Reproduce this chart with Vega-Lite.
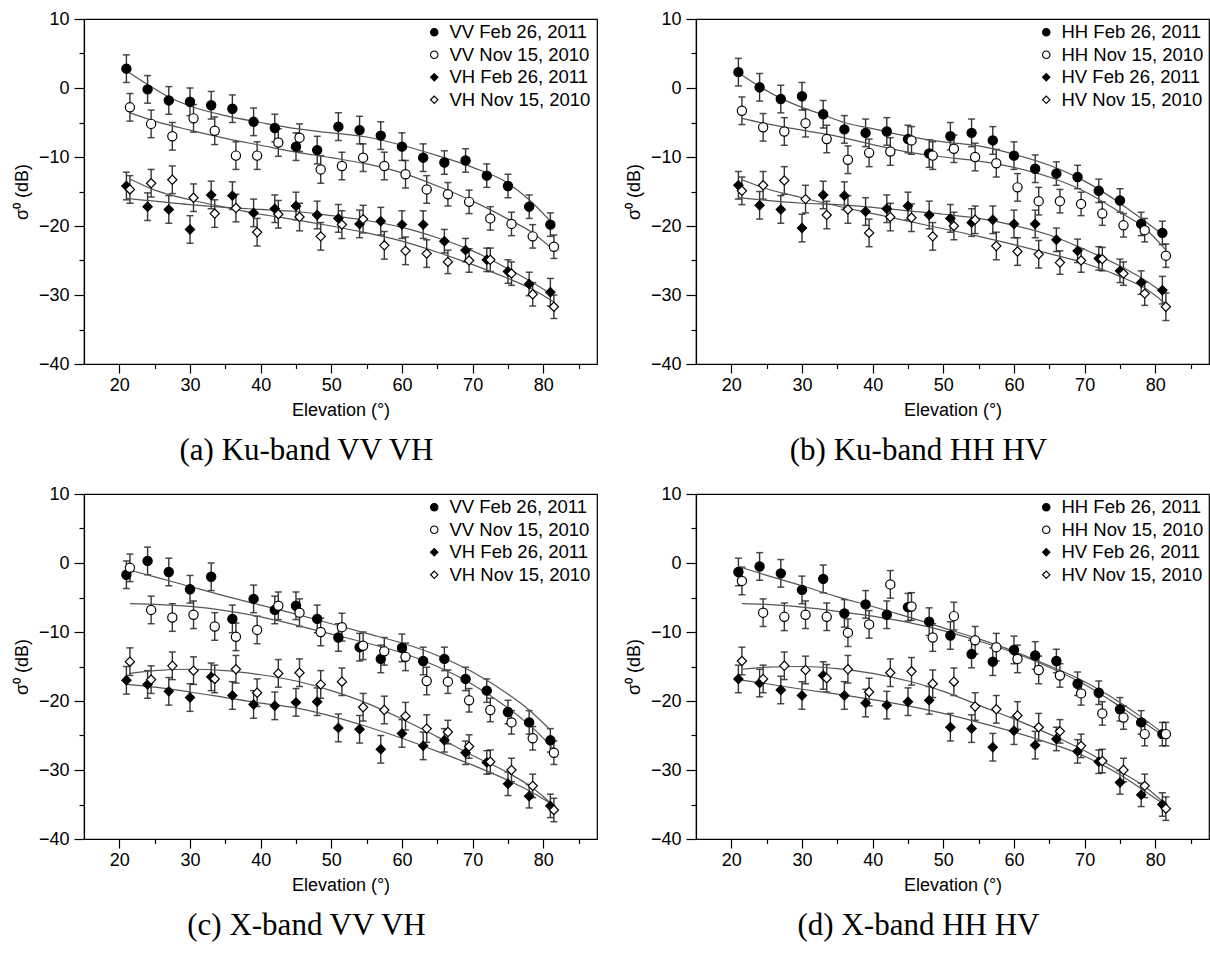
{
  "$schema": "https://vega.github.io/schema/vega-lite/v6.json",
  "background": "white",
  "padding": {"left": 12, "top": 9, "right": 0, "bottom": 0},
  "columns": 2,
  "spacing": {"row": 130, "column": 99},
  "bounds": "flush",
  "resolve": {"scale": {"shape": "independent", "fill": "independent", "stroke": "independent", "x": "independent", "y": "independent"}, "legend": {"shape": "independent", "fill": "independent", "stroke": "independent"}},
  "datasets": {
    "pts": [
      {"p":"a","s":"VV Feb 26, 2011","x":21,"y":2.8,"e":2},{"p":"a","s":"VV Feb 26, 2011","x":24,"y":-0.2,"e":2},{"p":"a","s":"VV Feb 26, 2011","x":27,"y":-1.8,"e":2},{"p":"a","s":"VV Feb 26, 2011","x":30,"y":-2.0,"e":2},{"p":"a","s":"VV Feb 26, 2011","x":33,"y":-2.5,"e":2},{"p":"a","s":"VV Feb 26, 2011","x":36,"y":-3.0,"e":2},{"p":"a","s":"VV Feb 26, 2011","x":39,"y":-4.9,"e":2},{"p":"a","s":"VV Feb 26, 2011","x":42,"y":-5.8,"e":2},{"p":"a","s":"VV Feb 26, 2011","x":45,"y":-8.5,"e":2},{"p":"a","s":"VV Feb 26, 2011","x":48,"y":-9.0,"e":2},{"p":"a","s":"VV Feb 26, 2011","x":51,"y":-5.6,"e":2},{"p":"a","s":"VV Feb 26, 2011","x":54,"y":-6.1,"e":2},{"p":"a","s":"VV Feb 26, 2011","x":57,"y":-6.9,"e":2},{"p":"a","s":"VV Feb 26, 2011","x":60,"y":-8.5,"e":2},{"p":"a","s":"VV Feb 26, 2011","x":63,"y":-10.1,"e":2},{"p":"a","s":"VV Feb 26, 2011","x":66,"y":-10.8,"e":1.7},{"p":"a","s":"VV Feb 26, 2011","x":69,"y":-10.5,"e":1.7},{"p":"a","s":"VV Feb 26, 2011","x":72,"y":-12.7,"e":1.7},{"p":"a","s":"VV Feb 26, 2011","x":75,"y":-14.2,"e":1.7},{"p":"a","s":"VV Feb 26, 2011","x":78,"y":-17.2,"e":1.7},{"p":"a","s":"VV Feb 26, 2011","x":81,"y":-19.8,"e":1.7},
      {"p":"a","s":"VV Nov 15, 2010","x":21.5,"y":-2.8,"e":2},{"p":"a","s":"VV Nov 15, 2010","x":24.5,"y":-5.2,"e":2},{"p":"a","s":"VV Nov 15, 2010","x":27.5,"y":-7.0,"e":2},{"p":"a","s":"VV Nov 15, 2010","x":30.5,"y":-4.4,"e":2},{"p":"a","s":"VV Nov 15, 2010","x":33.5,"y":-6.2,"e":2},{"p":"a","s":"VV Nov 15, 2010","x":36.5,"y":-9.8,"e":2},{"p":"a","s":"VV Nov 15, 2010","x":39.5,"y":-9.8,"e":2},{"p":"a","s":"VV Nov 15, 2010","x":42.5,"y":-7.9,"e":2},{"p":"a","s":"VV Nov 15, 2010","x":45.5,"y":-7.2,"e":2},{"p":"a","s":"VV Nov 15, 2010","x":48.5,"y":-11.8,"e":2},{"p":"a","s":"VV Nov 15, 2010","x":51.5,"y":-11.3,"e":2},{"p":"a","s":"VV Nov 15, 2010","x":54.5,"y":-10.1,"e":2},{"p":"a","s":"VV Nov 15, 2010","x":57.5,"y":-11.3,"e":2},{"p":"a","s":"VV Nov 15, 2010","x":60.5,"y":-12.5,"e":2},{"p":"a","s":"VV Nov 15, 2010","x":63.5,"y":-14.7,"e":2},{"p":"a","s":"VV Nov 15, 2010","x":66.5,"y":-15.4,"e":1.7},{"p":"a","s":"VV Nov 15, 2010","x":69.5,"y":-16.5,"e":1.7},{"p":"a","s":"VV Nov 15, 2010","x":72.5,"y":-18.9,"e":1.7},{"p":"a","s":"VV Nov 15, 2010","x":75.5,"y":-19.7,"e":1.7},{"p":"a","s":"VV Nov 15, 2010","x":78.5,"y":-21.5,"e":1.7},{"p":"a","s":"VV Nov 15, 2010","x":81.5,"y":-23.0,"e":1.7},
      {"p":"a","s":"VH Feb 26, 2011","x":21,"y":-14.2,"e":2},{"p":"a","s":"VH Feb 26, 2011","x":24,"y":-17.2,"e":2},{"p":"a","s":"VH Feb 26, 2011","x":27,"y":-17.6,"e":2},{"p":"a","s":"VH Feb 26, 2011","x":30,"y":-20.5,"e":2},{"p":"a","s":"VH Feb 26, 2011","x":33,"y":-15.5,"e":2},{"p":"a","s":"VH Feb 26, 2011","x":36,"y":-15.6,"e":2},{"p":"a","s":"VH Feb 26, 2011","x":39,"y":-18.1,"e":2},{"p":"a","s":"VH Feb 26, 2011","x":42,"y":-17.5,"e":2},{"p":"a","s":"VH Feb 26, 2011","x":45,"y":-17.1,"e":2},{"p":"a","s":"VH Feb 26, 2011","x":48,"y":-18.4,"e":2},{"p":"a","s":"VH Feb 26, 2011","x":51,"y":-18.9,"e":2},{"p":"a","s":"VH Feb 26, 2011","x":54,"y":-19.7,"e":2},{"p":"a","s":"VH Feb 26, 2011","x":57,"y":-19.3,"e":2},{"p":"a","s":"VH Feb 26, 2011","x":60,"y":-19.8,"e":2},{"p":"a","s":"VH Feb 26, 2011","x":63,"y":-19.8,"e":2},{"p":"a","s":"VH Feb 26, 2011","x":66,"y":-22.2,"e":1.7},{"p":"a","s":"VH Feb 26, 2011","x":69,"y":-23.5,"e":1.7},{"p":"a","s":"VH Feb 26, 2011","x":72,"y":-24.9,"e":1.7},{"p":"a","s":"VH Feb 26, 2011","x":75,"y":-26.6,"e":1.7},{"p":"a","s":"VH Feb 26, 2011","x":78,"y":-28.4,"e":1.7},{"p":"a","s":"VH Feb 26, 2011","x":81,"y":-29.6,"e":2},
      {"p":"a","s":"VH Nov 15, 2010","x":21.5,"y":-14.7,"e":2},{"p":"a","s":"VH Nov 15, 2010","x":24.5,"y":-13.8,"e":2},{"p":"a","s":"VH Nov 15, 2010","x":27.5,"y":-13.3,"e":2},{"p":"a","s":"VH Nov 15, 2010","x":30.5,"y":-15.9,"e":2},{"p":"a","s":"VH Nov 15, 2010","x":33.5,"y":-18.2,"e":2},{"p":"a","s":"VH Nov 15, 2010","x":36.5,"y":-17.4,"e":2},{"p":"a","s":"VH Nov 15, 2010","x":39.5,"y":-20.9,"e":2},{"p":"a","s":"VH Nov 15, 2010","x":42.5,"y":-18.3,"e":2},{"p":"a","s":"VH Nov 15, 2010","x":45.5,"y":-18.7,"e":2},{"p":"a","s":"VH Nov 15, 2010","x":48.5,"y":-21.5,"e":2},{"p":"a","s":"VH Nov 15, 2010","x":51.5,"y":-19.8,"e":2},{"p":"a","s":"VH Nov 15, 2010","x":54.5,"y":-19.0,"e":2},{"p":"a","s":"VH Nov 15, 2010","x":57.5,"y":-22.8,"e":2},{"p":"a","s":"VH Nov 15, 2010","x":60.5,"y":-23.6,"e":2},{"p":"a","s":"VH Nov 15, 2010","x":63.5,"y":-24.0,"e":2},{"p":"a","s":"VH Nov 15, 2010","x":66.5,"y":-25.2,"e":1.7},{"p":"a","s":"VH Nov 15, 2010","x":69.5,"y":-25.0,"e":1.7},{"p":"a","s":"VH Nov 15, 2010","x":72.5,"y":-24.9,"e":1.7},{"p":"a","s":"VH Nov 15, 2010","x":75.5,"y":-26.9,"e":1.7},{"p":"a","s":"VH Nov 15, 2010","x":78.5,"y":-29.9,"e":1.7},{"p":"a","s":"VH Nov 15, 2010","x":81.5,"y":-31.7,"e":1.7},

      {"p":"b","s":"HH Feb 26, 2011","x":21,"y":2.3,"e":2},{"p":"b","s":"HH Feb 26, 2011","x":24,"y":0.1,"e":2},{"p":"b","s":"HH Feb 26, 2011","x":27,"y":-1.6,"e":2},{"p":"b","s":"HH Feb 26, 2011","x":30,"y":-1.2,"e":2},{"p":"b","s":"HH Feb 26, 2011","x":33,"y":-3.8,"e":2},{"p":"b","s":"HH Feb 26, 2011","x":36,"y":-6.0,"e":2},{"p":"b","s":"HH Feb 26, 2011","x":39,"y":-6.5,"e":2},{"p":"b","s":"HH Feb 26, 2011","x":42,"y":-6.3,"e":2},{"p":"b","s":"HH Feb 26, 2011","x":45,"y":-7.4,"e":2},{"p":"b","s":"HH Feb 26, 2011","x":48,"y":-9.5,"e":2},{"p":"b","s":"HH Feb 26, 2011","x":51,"y":-7.0,"e":2},{"p":"b","s":"HH Feb 26, 2011","x":54,"y":-6.5,"e":2},{"p":"b","s":"HH Feb 26, 2011","x":57,"y":-7.6,"e":2},{"p":"b","s":"HH Feb 26, 2011","x":60,"y":-9.8,"e":2},{"p":"b","s":"HH Feb 26, 2011","x":63,"y":-11.7,"e":2},{"p":"b","s":"HH Feb 26, 2011","x":66,"y":-12.4,"e":1.7},{"p":"b","s":"HH Feb 26, 2011","x":69,"y":-12.9,"e":1.7},{"p":"b","s":"HH Feb 26, 2011","x":72,"y":-14.9,"e":1.7},{"p":"b","s":"HH Feb 26, 2011","x":75,"y":-16.3,"e":1.7},{"p":"b","s":"HH Feb 26, 2011","x":78,"y":-19.7,"e":1.7},{"p":"b","s":"HH Feb 26, 2011","x":81,"y":-21.0,"e":1.7},
      {"p":"b","s":"HH Nov 15, 2010","x":21.5,"y":-3.3,"e":2},{"p":"b","s":"HH Nov 15, 2010","x":24.5,"y":-5.7,"e":2},{"p":"b","s":"HH Nov 15, 2010","x":27.5,"y":-6.3,"e":2},{"p":"b","s":"HH Nov 15, 2010","x":30.5,"y":-5.1,"e":2},{"p":"b","s":"HH Nov 15, 2010","x":33.5,"y":-7.4,"e":2},{"p":"b","s":"HH Nov 15, 2010","x":36.5,"y":-10.4,"e":2},{"p":"b","s":"HH Nov 15, 2010","x":39.5,"y":-9.4,"e":2},{"p":"b","s":"HH Nov 15, 2010","x":42.5,"y":-9.2,"e":2},{"p":"b","s":"HH Nov 15, 2010","x":45.5,"y":-7.6,"e":2},{"p":"b","s":"HH Nov 15, 2010","x":48.5,"y":-9.8,"e":2},{"p":"b","s":"HH Nov 15, 2010","x":51.5,"y":-8.8,"e":2},{"p":"b","s":"HH Nov 15, 2010","x":54.5,"y":-10.0,"e":2},{"p":"b","s":"HH Nov 15, 2010","x":57.5,"y":-10.9,"e":2},{"p":"b","s":"HH Nov 15, 2010","x":60.5,"y":-14.4,"e":2},{"p":"b","s":"HH Nov 15, 2010","x":63.5,"y":-16.4,"e":2},{"p":"b","s":"HH Nov 15, 2010","x":66.5,"y":-16.4,"e":1.7},{"p":"b","s":"HH Nov 15, 2010","x":69.5,"y":-16.8,"e":1.7},{"p":"b","s":"HH Nov 15, 2010","x":72.5,"y":-18.2,"e":1.7},{"p":"b","s":"HH Nov 15, 2010","x":75.5,"y":-19.9,"e":1.7},{"p":"b","s":"HH Nov 15, 2010","x":78.5,"y":-20.6,"e":1.7},{"p":"b","s":"HH Nov 15, 2010","x":81.5,"y":-24.3,"e":1.7},
      {"p":"b","s":"HV Feb 26, 2011","x":21,"y":-14.1,"e":2},{"p":"b","s":"HV Feb 26, 2011","x":24,"y":-17.0,"e":2},{"p":"b","s":"HV Feb 26, 2011","x":27,"y":-17.6,"e":2},{"p":"b","s":"HV Feb 26, 2011","x":30,"y":-20.3,"e":2},{"p":"b","s":"HV Feb 26, 2011","x":33,"y":-15.5,"e":2},{"p":"b","s":"HV Feb 26, 2011","x":36,"y":-15.6,"e":2},{"p":"b","s":"HV Feb 26, 2011","x":39,"y":-17.9,"e":2},{"p":"b","s":"HV Feb 26, 2011","x":42,"y":-17.5,"e":2},{"p":"b","s":"HV Feb 26, 2011","x":45,"y":-17.1,"e":2},{"p":"b","s":"HV Feb 26, 2011","x":48,"y":-18.4,"e":2},{"p":"b","s":"HV Feb 26, 2011","x":51,"y":-18.9,"e":2},{"p":"b","s":"HV Feb 26, 2011","x":54,"y":-19.5,"e":2},{"p":"b","s":"HV Feb 26, 2011","x":57,"y":-19.1,"e":2},{"p":"b","s":"HV Feb 26, 2011","x":60,"y":-19.7,"e":2},{"p":"b","s":"HV Feb 26, 2011","x":63,"y":-19.7,"e":2},{"p":"b","s":"HV Feb 26, 2011","x":66,"y":-22.0,"e":1.7},{"p":"b","s":"HV Feb 26, 2011","x":69,"y":-23.6,"e":1.7},{"p":"b","s":"HV Feb 26, 2011","x":72,"y":-24.7,"e":1.7},{"p":"b","s":"HV Feb 26, 2011","x":75,"y":-26.5,"e":1.7},{"p":"b","s":"HV Feb 26, 2011","x":78,"y":-28.2,"e":1.7},{"p":"b","s":"HV Feb 26, 2011","x":81,"y":-29.3,"e":2},
      {"p":"b","s":"HV Nov 15, 2010","x":21.5,"y":-14.9,"e":2},{"p":"b","s":"HV Nov 15, 2010","x":24.5,"y":-14.1,"e":2},{"p":"b","s":"HV Nov 15, 2010","x":27.5,"y":-13.4,"e":2},{"p":"b","s":"HV Nov 15, 2010","x":30.5,"y":-16.1,"e":2},{"p":"b","s":"HV Nov 15, 2010","x":33.5,"y":-18.4,"e":2},{"p":"b","s":"HV Nov 15, 2010","x":36.5,"y":-17.6,"e":2},{"p":"b","s":"HV Nov 15, 2010","x":39.5,"y":-21.0,"e":2},{"p":"b","s":"HV Nov 15, 2010","x":42.5,"y":-18.7,"e":2},{"p":"b","s":"HV Nov 15, 2010","x":45.5,"y":-18.8,"e":2},{"p":"b","s":"HV Nov 15, 2010","x":48.5,"y":-21.5,"e":2},{"p":"b","s":"HV Nov 15, 2010","x":51.5,"y":-20.0,"e":2},{"p":"b","s":"HV Nov 15, 2010","x":54.5,"y":-19.1,"e":2},{"p":"b","s":"HV Nov 15, 2010","x":57.5,"y":-22.9,"e":2},{"p":"b","s":"HV Nov 15, 2010","x":60.5,"y":-23.7,"e":2},{"p":"b","s":"HV Nov 15, 2010","x":63.5,"y":-24.1,"e":2},{"p":"b","s":"HV Nov 15, 2010","x":66.5,"y":-25.3,"e":1.7},{"p":"b","s":"HV Nov 15, 2010","x":69.5,"y":-25.0,"e":1.7},{"p":"b","s":"HV Nov 15, 2010","x":72.5,"y":-24.8,"e":1.7},{"p":"b","s":"HV Nov 15, 2010","x":75.5,"y":-26.9,"e":1.7},{"p":"b","s":"HV Nov 15, 2010","x":78.5,"y":-29.8,"e":1.7},{"p":"b","s":"HV Nov 15, 2010","x":81.5,"y":-31.7,"e":2},

      {"p":"c","s":"VV Feb 26, 2011","x":21,"y":-1.7,"e":2},{"p":"c","s":"VV Feb 26, 2011","x":24,"y":0.3,"e":2},{"p":"c","s":"VV Feb 26, 2011","x":27,"y":-1.3,"e":2},{"p":"c","s":"VV Feb 26, 2011","x":30,"y":-3.8,"e":2},{"p":"c","s":"VV Feb 26, 2011","x":33,"y":-2.0,"e":2},{"p":"c","s":"VV Feb 26, 2011","x":36,"y":-8.1,"e":2},{"p":"c","s":"VV Feb 26, 2011","x":39,"y":-5.2,"e":2},{"p":"c","s":"VV Feb 26, 2011","x":42,"y":-6.8,"e":2},{"p":"c","s":"VV Feb 26, 2011","x":45,"y":-6.2,"e":2},{"p":"c","s":"VV Feb 26, 2011","x":48,"y":-8.1,"e":2},{"p":"c","s":"VV Feb 26, 2011","x":51,"y":-10.8,"e":2},{"p":"c","s":"VV Feb 26, 2011","x":54,"y":-12.2,"e":2},{"p":"c","s":"VV Feb 26, 2011","x":57,"y":-13.9,"e":2},{"p":"c","s":"VV Feb 26, 2011","x":60,"y":-12.3,"e":2},{"p":"c","s":"VV Feb 26, 2011","x":63,"y":-14.2,"e":2},{"p":"c","s":"VV Feb 26, 2011","x":66,"y":-13.9,"e":1.7},{"p":"c","s":"VV Feb 26, 2011","x":69,"y":-16.8,"e":1.7},{"p":"c","s":"VV Feb 26, 2011","x":72,"y":-18.5,"e":1.7},{"p":"c","s":"VV Feb 26, 2011","x":75,"y":-21.6,"e":1.7},{"p":"c","s":"VV Feb 26, 2011","x":78,"y":-23.1,"e":1.7},{"p":"c","s":"VV Feb 26, 2011","x":81,"y":-25.7,"e":1.7},
      {"p":"c","s":"VV Nov 15, 2010","x":21.5,"y":-0.7,"e":2},{"p":"c","s":"VV Nov 15, 2010","x":24.5,"y":-6.8,"e":2},{"p":"c","s":"VV Nov 15, 2010","x":27.5,"y":-7.9,"e":2},{"p":"c","s":"VV Nov 15, 2010","x":30.5,"y":-7.5,"e":2},{"p":"c","s":"VV Nov 15, 2010","x":33.5,"y":-9.2,"e":2},{"p":"c","s":"VV Nov 15, 2010","x":36.5,"y":-10.7,"e":2},{"p":"c","s":"VV Nov 15, 2010","x":39.5,"y":-9.7,"e":2},{"p":"c","s":"VV Nov 15, 2010","x":42.5,"y":-6.2,"e":2},{"p":"c","s":"VV Nov 15, 2010","x":45.5,"y":-7.2,"e":2},{"p":"c","s":"VV Nov 15, 2010","x":48.5,"y":-10.0,"e":2},{"p":"c","s":"VV Nov 15, 2010","x":51.5,"y":-9.3,"e":2},{"p":"c","s":"VV Nov 15, 2010","x":54.5,"y":-12.0,"e":2},{"p":"c","s":"VV Nov 15, 2010","x":57.5,"y":-12.8,"e":2},{"p":"c","s":"VV Nov 15, 2010","x":60.5,"y":-13.6,"e":2},{"p":"c","s":"VV Nov 15, 2010","x":63.5,"y":-17.1,"e":2},{"p":"c","s":"VV Nov 15, 2010","x":66.5,"y":-17.2,"e":1.7},{"p":"c","s":"VV Nov 15, 2010","x":69.5,"y":-19.9,"e":1.7},{"p":"c","s":"VV Nov 15, 2010","x":72.5,"y":-21.3,"e":1.7},{"p":"c","s":"VV Nov 15, 2010","x":75.5,"y":-23.1,"e":1.7},{"p":"c","s":"VV Nov 15, 2010","x":78.5,"y":-25.4,"e":1.7},{"p":"c","s":"VV Nov 15, 2010","x":81.5,"y":-27.5,"e":1.7},
      {"p":"c","s":"VH Feb 26, 2011","x":21,"y":-17.0,"e":2},{"p":"c","s":"VH Feb 26, 2011","x":24,"y":-17.6,"e":2},{"p":"c","s":"VH Feb 26, 2011","x":27,"y":-18.6,"e":2},{"p":"c","s":"VH Feb 26, 2011","x":30,"y":-19.5,"e":2},{"p":"c","s":"VH Feb 26, 2011","x":33,"y":-16.5,"e":2},{"p":"c","s":"VH Feb 26, 2011","x":36,"y":-19.2,"e":2},{"p":"c","s":"VH Feb 26, 2011","x":39,"y":-20.5,"e":2},{"p":"c","s":"VH Feb 26, 2011","x":42,"y":-20.7,"e":2},{"p":"c","s":"VH Feb 26, 2011","x":45,"y":-20.2,"e":2},{"p":"c","s":"VH Feb 26, 2011","x":48,"y":-20.1,"e":2},{"p":"c","s":"VH Feb 26, 2011","x":51,"y":-23.9,"e":2},{"p":"c","s":"VH Feb 26, 2011","x":54,"y":-24.1,"e":2},{"p":"c","s":"VH Feb 26, 2011","x":57,"y":-27.0,"e":2},{"p":"c","s":"VH Feb 26, 2011","x":60,"y":-24.7,"e":2},{"p":"c","s":"VH Feb 26, 2011","x":63,"y":-26.5,"e":2},{"p":"c","s":"VH Feb 26, 2011","x":66,"y":-25.7,"e":1.7},{"p":"c","s":"VH Feb 26, 2011","x":69,"y":-27.5,"e":1.7},{"p":"c","s":"VH Feb 26, 2011","x":72,"y":-28.9,"e":1.7},{"p":"c","s":"VH Feb 26, 2011","x":75,"y":-32.0,"e":1.7},{"p":"c","s":"VH Feb 26, 2011","x":78,"y":-33.8,"e":1.7},{"p":"c","s":"VH Feb 26, 2011","x":81,"y":-35.2,"e":1.7},
      {"p":"c","s":"VH Nov 15, 2010","x":21.5,"y":-14.3,"e":2},{"p":"c","s":"VH Nov 15, 2010","x":24.5,"y":-16.9,"e":2},{"p":"c","s":"VH Nov 15, 2010","x":27.5,"y":-14.9,"e":2},{"p":"c","s":"VH Nov 15, 2010","x":30.5,"y":-15.6,"e":2},{"p":"c","s":"VH Nov 15, 2010","x":33.5,"y":-16.8,"e":2},{"p":"c","s":"VH Nov 15, 2010","x":36.5,"y":-15.4,"e":2},{"p":"c","s":"VH Nov 15, 2010","x":39.5,"y":-18.8,"e":2},{"p":"c","s":"VH Nov 15, 2010","x":42.5,"y":-16.0,"e":2},{"p":"c","s":"VH Nov 15, 2010","x":45.5,"y":-15.9,"e":2},{"p":"c","s":"VH Nov 15, 2010","x":48.5,"y":-17.6,"e":2},{"p":"c","s":"VH Nov 15, 2010","x":51.5,"y":-17.2,"e":2},{"p":"c","s":"VH Nov 15, 2010","x":54.5,"y":-20.9,"e":2},{"p":"c","s":"VH Nov 15, 2010","x":57.5,"y":-21.3,"e":2},{"p":"c","s":"VH Nov 15, 2010","x":60.5,"y":-22.2,"e":2},{"p":"c","s":"VH Nov 15, 2010","x":63.5,"y":-24.0,"e":2},{"p":"c","s":"VH Nov 15, 2010","x":66.5,"y":-24.5,"e":1.7},{"p":"c","s":"VH Nov 15, 2010","x":69.5,"y":-26.6,"e":1.7},{"p":"c","s":"VH Nov 15, 2010","x":72.5,"y":-28.8,"e":1.7},{"p":"c","s":"VH Nov 15, 2010","x":75.5,"y":-30.0,"e":1.7},{"p":"c","s":"VH Nov 15, 2010","x":78.5,"y":-32.3,"e":1.7},{"p":"c","s":"VH Nov 15, 2010","x":81.5,"y":-35.8,"e":1.7},

      {"p":"d","s":"HH Feb 26, 2011","x":21,"y":-1.3,"e":2},{"p":"d","s":"HH Feb 26, 2011","x":24,"y":-0.5,"e":2},{"p":"d","s":"HH Feb 26, 2011","x":27,"y":-1.5,"e":2},{"p":"d","s":"HH Feb 26, 2011","x":30,"y":-3.9,"e":2},{"p":"d","s":"HH Feb 26, 2011","x":33,"y":-2.3,"e":2},{"p":"d","s":"HH Feb 26, 2011","x":36,"y":-7.3,"e":2},{"p":"d","s":"HH Feb 26, 2011","x":39,"y":-6.0,"e":2},{"p":"d","s":"HH Feb 26, 2011","x":42,"y":-7.5,"e":2},{"p":"d","s":"HH Feb 26, 2011","x":45,"y":-6.4,"e":2},{"p":"d","s":"HH Feb 26, 2011","x":48,"y":-8.5,"e":2},{"p":"d","s":"HH Feb 26, 2011","x":51,"y":-10.5,"e":2},{"p":"d","s":"HH Feb 26, 2011","x":54,"y":-13.2,"e":2},{"p":"d","s":"HH Feb 26, 2011","x":57,"y":-14.3,"e":2},{"p":"d","s":"HH Feb 26, 2011","x":60,"y":-12.6,"e":2},{"p":"d","s":"HH Feb 26, 2011","x":63,"y":-13.4,"e":2},{"p":"d","s":"HH Feb 26, 2011","x":66,"y":-14.2,"e":1.7},{"p":"d","s":"HH Feb 26, 2011","x":69,"y":-17.5,"e":1.7},{"p":"d","s":"HH Feb 26, 2011","x":72,"y":-18.8,"e":1.7},{"p":"d","s":"HH Feb 26, 2011","x":75,"y":-21.2,"e":1.7},{"p":"d","s":"HH Feb 26, 2011","x":78,"y":-23.1,"e":1.7},{"p":"d","s":"HH Feb 26, 2011","x":81,"y":-24.8,"e":1.7},
      {"p":"d","s":"HH Nov 15, 2010","x":21.5,"y":-2.6,"e":2},{"p":"d","s":"HH Nov 15, 2010","x":24.5,"y":-7.2,"e":2},{"p":"d","s":"HH Nov 15, 2010","x":27.5,"y":-7.8,"e":2},{"p":"d","s":"HH Nov 15, 2010","x":30.5,"y":-7.5,"e":2},{"p":"d","s":"HH Nov 15, 2010","x":33.5,"y":-7.8,"e":2},{"p":"d","s":"HH Nov 15, 2010","x":36.5,"y":-10.1,"e":2},{"p":"d","s":"HH Nov 15, 2010","x":39.5,"y":-8.9,"e":2},{"p":"d","s":"HH Nov 15, 2010","x":42.5,"y":-3.1,"e":2},{"p":"d","s":"HH Nov 15, 2010","x":45.5,"y":-6.3,"e":2},{"p":"d","s":"HH Nov 15, 2010","x":48.5,"y":-10.8,"e":2},{"p":"d","s":"HH Nov 15, 2010","x":51.5,"y":-7.7,"e":2},{"p":"d","s":"HH Nov 15, 2010","x":54.5,"y":-11.2,"e":2},{"p":"d","s":"HH Nov 15, 2010","x":57.5,"y":-12.2,"e":2},{"p":"d","s":"HH Nov 15, 2010","x":60.5,"y":-13.9,"e":2},{"p":"d","s":"HH Nov 15, 2010","x":63.5,"y":-15.5,"e":2},{"p":"d","s":"HH Nov 15, 2010","x":66.5,"y":-16.3,"e":1.7},{"p":"d","s":"HH Nov 15, 2010","x":69.5,"y":-18.9,"e":1.7},{"p":"d","s":"HH Nov 15, 2010","x":72.5,"y":-21.8,"e":1.7},{"p":"d","s":"HH Nov 15, 2010","x":75.5,"y":-22.4,"e":1.7},{"p":"d","s":"HH Nov 15, 2010","x":78.5,"y":-24.8,"e":1.7},{"p":"d","s":"HH Nov 15, 2010","x":81.5,"y":-24.8,"e":1.7},
      {"p":"d","s":"HV Feb 26, 2011","x":21,"y":-16.8,"e":2},{"p":"d","s":"HV Feb 26, 2011","x":24,"y":-17.4,"e":2},{"p":"d","s":"HV Feb 26, 2011","x":27,"y":-18.4,"e":2},{"p":"d","s":"HV Feb 26, 2011","x":30,"y":-19.2,"e":2},{"p":"d","s":"HV Feb 26, 2011","x":33,"y":-16.3,"e":2},{"p":"d","s":"HV Feb 26, 2011","x":36,"y":-19.2,"e":2},{"p":"d","s":"HV Feb 26, 2011","x":39,"y":-20.3,"e":2},{"p":"d","s":"HV Feb 26, 2011","x":42,"y":-20.6,"e":2},{"p":"d","s":"HV Feb 26, 2011","x":45,"y":-20.1,"e":2},{"p":"d","s":"HV Feb 26, 2011","x":48,"y":-19.9,"e":2},{"p":"d","s":"HV Feb 26, 2011","x":51,"y":-23.8,"e":2},{"p":"d","s":"HV Feb 26, 2011","x":54,"y":-24.0,"e":2},{"p":"d","s":"HV Feb 26, 2011","x":57,"y":-26.7,"e":2},{"p":"d","s":"HV Feb 26, 2011","x":60,"y":-24.3,"e":2},{"p":"d","s":"HV Feb 26, 2011","x":63,"y":-26.4,"e":2},{"p":"d","s":"HV Feb 26, 2011","x":66,"y":-25.5,"e":1.7},{"p":"d","s":"HV Feb 26, 2011","x":69,"y":-27.3,"e":1.7},{"p":"d","s":"HV Feb 26, 2011","x":72,"y":-28.8,"e":1.7},{"p":"d","s":"HV Feb 26, 2011","x":75,"y":-31.8,"e":1.7},{"p":"d","s":"HV Feb 26, 2011","x":78,"y":-33.6,"e":1.7},{"p":"d","s":"HV Feb 26, 2011","x":81,"y":-35.0,"e":1.7},
      {"p":"d","s":"HV Nov 15, 2010","x":21.5,"y":-14.2,"e":2},{"p":"d","s":"HV Nov 15, 2010","x":24.5,"y":-16.8,"e":2},{"p":"d","s":"HV Nov 15, 2010","x":27.5,"y":-14.9,"e":2},{"p":"d","s":"HV Nov 15, 2010","x":30.5,"y":-15.5,"e":2},{"p":"d","s":"HV Nov 15, 2010","x":33.5,"y":-16.7,"e":2},{"p":"d","s":"HV Nov 15, 2010","x":36.5,"y":-15.4,"e":2},{"p":"d","s":"HV Nov 15, 2010","x":39.5,"y":-18.7,"e":2},{"p":"d","s":"HV Nov 15, 2010","x":42.5,"y":-15.9,"e":2},{"p":"d","s":"HV Nov 15, 2010","x":45.5,"y":-15.7,"e":2},{"p":"d","s":"HV Nov 15, 2010","x":48.5,"y":-17.5,"e":2},{"p":"d","s":"HV Nov 15, 2010","x":51.5,"y":-17.2,"e":2},{"p":"d","s":"HV Nov 15, 2010","x":54.5,"y":-20.8,"e":2},{"p":"d","s":"HV Nov 15, 2010","x":57.5,"y":-21.2,"e":2},{"p":"d","s":"HV Nov 15, 2010","x":60.5,"y":-22.1,"e":2},{"p":"d","s":"HV Nov 15, 2010","x":63.5,"y":-23.8,"e":2},{"p":"d","s":"HV Nov 15, 2010","x":66.5,"y":-24.4,"e":1.7},{"p":"d","s":"HV Nov 15, 2010","x":69.5,"y":-26.5,"e":1.7},{"p":"d","s":"HV Nov 15, 2010","x":72.5,"y":-28.7,"e":1.7},{"p":"d","s":"HV Nov 15, 2010","x":75.5,"y":-30.0,"e":1.7},{"p":"d","s":"HV Nov 15, 2010","x":78.5,"y":-32.3,"e":1.7},{"p":"d","s":"HV Nov 15, 2010","x":81.5,"y":-35.6,"e":1.7}
    ],
    "fit": [
      {"p":"a","s":"VV Feb 26, 2011","x":21,"y":2.5},{"p":"a","s":"VV Feb 26, 2011","x":24,"y":0.5},{"p":"a","s":"VV Feb 26, 2011","x":27,"y":-1.3},{"p":"a","s":"VV Feb 26, 2011","x":30,"y":-2.6},{"p":"a","s":"VV Feb 26, 2011","x":35,"y":-4.0},{"p":"a","s":"VV Feb 26, 2011","x":40,"y":-5.0},{"p":"a","s":"VV Feb 26, 2011","x":45,"y":-5.9},{"p":"a","s":"VV Feb 26, 2011","x":50,"y":-6.5},{"p":"a","s":"VV Feb 26, 2011","x":55,"y":-7.1},{"p":"a","s":"VV Feb 26, 2011","x":60,"y":-8.3},{"p":"a","s":"VV Feb 26, 2011","x":65,"y":-9.8},{"p":"a","s":"VV Feb 26, 2011","x":70,"y":-11.5},{"p":"a","s":"VV Feb 26, 2011","x":75,"y":-13.8},{"p":"a","s":"VV Feb 26, 2011","x":78,"y":-16.2},{"p":"a","s":"VV Feb 26, 2011","x":81,"y":-19.3},
      {"p":"a","s":"VV Nov 15, 2010","x":21.5,"y":-3.6},{"p":"a","s":"VV Nov 15, 2010","x":25,"y":-4.8},{"p":"a","s":"VV Nov 15, 2010","x":30,"y":-6.1},{"p":"a","s":"VV Nov 15, 2010","x":35,"y":-7.3},{"p":"a","s":"VV Nov 15, 2010","x":40,"y":-8.3},{"p":"a","s":"VV Nov 15, 2010","x":45,"y":-9.3},{"p":"a","s":"VV Nov 15, 2010","x":50,"y":-10.1},{"p":"a","s":"VV Nov 15, 2010","x":55,"y":-11.0},{"p":"a","s":"VV Nov 15, 2010","x":60,"y":-12.3},{"p":"a","s":"VV Nov 15, 2010","x":65,"y":-14.2},{"p":"a","s":"VV Nov 15, 2010","x":70,"y":-16.4},{"p":"a","s":"VV Nov 15, 2010","x":75,"y":-19.0},{"p":"a","s":"VV Nov 15, 2010","x":78.5,"y":-21.0},{"p":"a","s":"VV Nov 15, 2010","x":81.5,"y":-23.5},
      {"p":"a","s":"VH Feb 26, 2011","x":21,"y":-16.0},{"p":"a","s":"VH Feb 26, 2011","x":25,"y":-16.4},{"p":"a","s":"VH Feb 26, 2011","x":30,"y":-16.9},{"p":"a","s":"VH Feb 26, 2011","x":35,"y":-17.3},{"p":"a","s":"VH Feb 26, 2011","x":40,"y":-17.6},{"p":"a","s":"VH Feb 26, 2011","x":45,"y":-17.9},{"p":"a","s":"VH Feb 26, 2011","x":50,"y":-18.5},{"p":"a","s":"VH Feb 26, 2011","x":55,"y":-19.2},{"p":"a","s":"VH Feb 26, 2011","x":60,"y":-20.2},{"p":"a","s":"VH Feb 26, 2011","x":65,"y":-21.7},{"p":"a","s":"VH Feb 26, 2011","x":70,"y":-23.6},{"p":"a","s":"VH Feb 26, 2011","x":75,"y":-26.2},{"p":"a","s":"VH Feb 26, 2011","x":78,"y":-27.9},{"p":"a","s":"VH Feb 26, 2011","x":81,"y":-29.8},
      {"p":"a","s":"VH Nov 15, 2010","x":21.5,"y":-13.2},{"p":"a","s":"VH Nov 15, 2010","x":25,"y":-14.8},{"p":"a","s":"VH Nov 15, 2010","x":30,"y":-16.2},{"p":"a","s":"VH Nov 15, 2010","x":35,"y":-17.3},{"p":"a","s":"VH Nov 15, 2010","x":40,"y":-18.3},{"p":"a","s":"VH Nov 15, 2010","x":45,"y":-19.1},{"p":"a","s":"VH Nov 15, 2010","x":50,"y":-20.0},{"p":"a","s":"VH Nov 15, 2010","x":55,"y":-21.0},{"p":"a","s":"VH Nov 15, 2010","x":60,"y":-22.2},{"p":"a","s":"VH Nov 15, 2010","x":65,"y":-23.8},{"p":"a","s":"VH Nov 15, 2010","x":70,"y":-25.6},{"p":"a","s":"VH Nov 15, 2010","x":75,"y":-27.6},{"p":"a","s":"VH Nov 15, 2010","x":78.5,"y":-29.2},{"p":"a","s":"VH Nov 15, 2010","x":81.5,"y":-31.0},

      {"p":"b","s":"HH Feb 26, 2011","x":21,"y":2.2},{"p":"b","s":"HH Feb 26, 2011","x":24,"y":0.2},{"p":"b","s":"HH Feb 26, 2011","x":27,"y":-1.5},{"p":"b","s":"HH Feb 26, 2011","x":30,"y":-2.8},{"p":"b","s":"HH Feb 26, 2011","x":33,"y":-3.9},{"p":"b","s":"HH Feb 26, 2011","x":36,"y":-5.0},{"p":"b","s":"HH Feb 26, 2011","x":40,"y":-5.9},{"p":"b","s":"HH Feb 26, 2011","x":45,"y":-7.0},{"p":"b","s":"HH Feb 26, 2011","x":50,"y":-7.8},{"p":"b","s":"HH Feb 26, 2011","x":55,"y":-8.4},{"p":"b","s":"HH Feb 26, 2011","x":60,"y":-9.6},{"p":"b","s":"HH Feb 26, 2011","x":65,"y":-11.2},{"p":"b","s":"HH Feb 26, 2011","x":70,"y":-13.5},{"p":"b","s":"HH Feb 26, 2011","x":75,"y":-16.7},{"p":"b","s":"HH Feb 26, 2011","x":78,"y":-18.9},{"p":"b","s":"HH Feb 26, 2011","x":81,"y":-21.2},
      {"p":"b","s":"HH Nov 15, 2010","x":21.5,"y":-4.4},{"p":"b","s":"HH Nov 15, 2010","x":25,"y":-5.2},{"p":"b","s":"HH Nov 15, 2010","x":30,"y":-6.1},{"p":"b","s":"HH Nov 15, 2010","x":35,"y":-7.0},{"p":"b","s":"HH Nov 15, 2010","x":40,"y":-8.2},{"p":"b","s":"HH Nov 15, 2010","x":45,"y":-9.3},{"p":"b","s":"HH Nov 15, 2010","x":50,"y":-10.0},{"p":"b","s":"HH Nov 15, 2010","x":55,"y":-10.6},{"p":"b","s":"HH Nov 15, 2010","x":60,"y":-11.5},{"p":"b","s":"HH Nov 15, 2010","x":65,"y":-12.9},{"p":"b","s":"HH Nov 15, 2010","x":70,"y":-15.0},{"p":"b","s":"HH Nov 15, 2010","x":75,"y":-18.0},{"p":"b","s":"HH Nov 15, 2010","x":78.5,"y":-20.3},{"p":"b","s":"HH Nov 15, 2010","x":81.5,"y":-23.5},
      {"p":"b","s":"HV Feb 26, 2011","x":21,"y":-15.9},{"p":"b","s":"HV Feb 26, 2011","x":25,"y":-16.3},{"p":"b","s":"HV Feb 26, 2011","x":30,"y":-16.7},{"p":"b","s":"HV Feb 26, 2011","x":35,"y":-16.9},{"p":"b","s":"HV Feb 26, 2011","x":40,"y":-17.3},{"p":"b","s":"HV Feb 26, 2011","x":45,"y":-17.8},{"p":"b","s":"HV Feb 26, 2011","x":50,"y":-18.3},{"p":"b","s":"HV Feb 26, 2011","x":55,"y":-18.9},{"p":"b","s":"HV Feb 26, 2011","x":60,"y":-19.9},{"p":"b","s":"HV Feb 26, 2011","x":65,"y":-21.3},{"p":"b","s":"HV Feb 26, 2011","x":70,"y":-23.4},{"p":"b","s":"HV Feb 26, 2011","x":75,"y":-25.8},{"p":"b","s":"HV Feb 26, 2011","x":78,"y":-27.5},{"p":"b","s":"HV Feb 26, 2011","x":81,"y":-29.6},
      {"p":"b","s":"HV Nov 15, 2010","x":21.5,"y":-13.3},{"p":"b","s":"HV Nov 15, 2010","x":25,"y":-14.6},{"p":"b","s":"HV Nov 15, 2010","x":30,"y":-15.9},{"p":"b","s":"HV Nov 15, 2010","x":35,"y":-17.1},{"p":"b","s":"HV Nov 15, 2010","x":40,"y":-18.2},{"p":"b","s":"HV Nov 15, 2010","x":45,"y":-19.3},{"p":"b","s":"HV Nov 15, 2010","x":50,"y":-20.4},{"p":"b","s":"HV Nov 15, 2010","x":55,"y":-21.5},{"p":"b","s":"HV Nov 15, 2010","x":60,"y":-22.7},{"p":"b","s":"HV Nov 15, 2010","x":65,"y":-24.0},{"p":"b","s":"HV Nov 15, 2010","x":70,"y":-25.4},{"p":"b","s":"HV Nov 15, 2010","x":75,"y":-27.3},{"p":"b","s":"HV Nov 15, 2010","x":78.5,"y":-29.0},{"p":"b","s":"HV Nov 15, 2010","x":81.5,"y":-31.3},

      {"p":"c","s":"VV Feb 26, 2011","x":21,"y":-0.9},{"p":"c","s":"VV Feb 26, 2011","x":25,"y":-2.0},{"p":"c","s":"VV Feb 26, 2011","x":30,"y":-3.4},{"p":"c","s":"VV Feb 26, 2011","x":35,"y":-4.8},{"p":"c","s":"VV Feb 26, 2011","x":40,"y":-6.1},{"p":"c","s":"VV Feb 26, 2011","x":45,"y":-7.4},{"p":"c","s":"VV Feb 26, 2011","x":50,"y":-8.8},{"p":"c","s":"VV Feb 26, 2011","x":55,"y":-10.2},{"p":"c","s":"VV Feb 26, 2011","x":60,"y":-11.6},{"p":"c","s":"VV Feb 26, 2011","x":65,"y":-13.4},{"p":"c","s":"VV Feb 26, 2011","x":70,"y":-15.8},{"p":"c","s":"VV Feb 26, 2011","x":75,"y":-19.0},{"p":"c","s":"VV Feb 26, 2011","x":78,"y":-21.3},{"p":"c","s":"VV Feb 26, 2011","x":81,"y":-24.2},
      {"p":"c","s":"VV Nov 15, 2010","x":21.5,"y":-5.9},{"p":"c","s":"VV Nov 15, 2010","x":25,"y":-6.0},{"p":"c","s":"VV Nov 15, 2010","x":30,"y":-6.3},{"p":"c","s":"VV Nov 15, 2010","x":35,"y":-6.9},{"p":"c","s":"VV Nov 15, 2010","x":40,"y":-7.8},{"p":"c","s":"VV Nov 15, 2010","x":45,"y":-9.0},{"p":"c","s":"VV Nov 15, 2010","x":50,"y":-10.3},{"p":"c","s":"VV Nov 15, 2010","x":55,"y":-11.6},{"p":"c","s":"VV Nov 15, 2010","x":60,"y":-13.0},{"p":"c","s":"VV Nov 15, 2010","x":65,"y":-15.0},{"p":"c","s":"VV Nov 15, 2010","x":70,"y":-17.6},{"p":"c","s":"VV Nov 15, 2010","x":75,"y":-21.0},{"p":"c","s":"VV Nov 15, 2010","x":78.5,"y":-23.9},{"p":"c","s":"VV Nov 15, 2010","x":81.5,"y":-27.0},
      {"p":"c","s":"VH Feb 26, 2011","x":21,"y":-17.6},{"p":"c","s":"VH Feb 26, 2011","x":25,"y":-18.0},{"p":"c","s":"VH Feb 26, 2011","x":30,"y":-18.7},{"p":"c","s":"VH Feb 26, 2011","x":35,"y":-19.5},{"p":"c","s":"VH Feb 26, 2011","x":40,"y":-20.3},{"p":"c","s":"VH Feb 26, 2011","x":45,"y":-21.0},{"p":"c","s":"VH Feb 26, 2011","x":50,"y":-22.2},{"p":"c","s":"VH Feb 26, 2011","x":55,"y":-23.7},{"p":"c","s":"VH Feb 26, 2011","x":60,"y":-25.4},{"p":"c","s":"VH Feb 26, 2011","x":65,"y":-27.3},{"p":"c","s":"VH Feb 26, 2011","x":70,"y":-29.3},{"p":"c","s":"VH Feb 26, 2011","x":75,"y":-31.5},{"p":"c","s":"VH Feb 26, 2011","x":78,"y":-33.0},{"p":"c","s":"VH Feb 26, 2011","x":81,"y":-34.8},
      {"p":"c","s":"VH Nov 15, 2010","x":21.5,"y":-16.0},{"p":"c","s":"VH Nov 15, 2010","x":25,"y":-15.6},{"p":"c","s":"VH Nov 15, 2010","x":30,"y":-15.4},{"p":"c","s":"VH Nov 15, 2010","x":35,"y":-15.6},{"p":"c","s":"VH Nov 15, 2010","x":40,"y":-16.2},{"p":"c","s":"VH Nov 15, 2010","x":45,"y":-17.1},{"p":"c","s":"VH Nov 15, 2010","x":50,"y":-18.5},{"p":"c","s":"VH Nov 15, 2010","x":55,"y":-20.3},{"p":"c","s":"VH Nov 15, 2010","x":60,"y":-22.6},{"p":"c","s":"VH Nov 15, 2010","x":65,"y":-25.2},{"p":"c","s":"VH Nov 15, 2010","x":70,"y":-27.9},{"p":"c","s":"VH Nov 15, 2010","x":75,"y":-30.4},{"p":"c","s":"VH Nov 15, 2010","x":78.5,"y":-32.6},{"p":"c","s":"VH Nov 15, 2010","x":81.5,"y":-35.2},

      {"p":"d","s":"HH Feb 26, 2011","x":21,"y":-0.5},{"p":"d","s":"HH Feb 26, 2011","x":25,"y":-1.8},{"p":"d","s":"HH Feb 26, 2011","x":30,"y":-3.3},{"p":"d","s":"HH Feb 26, 2011","x":35,"y":-4.9},{"p":"d","s":"HH Feb 26, 2011","x":40,"y":-6.3},{"p":"d","s":"HH Feb 26, 2011","x":45,"y":-7.8},{"p":"d","s":"HH Feb 26, 2011","x":50,"y":-9.4},{"p":"d","s":"HH Feb 26, 2011","x":55,"y":-11.0},{"p":"d","s":"HH Feb 26, 2011","x":60,"y":-12.8},{"p":"d","s":"HH Feb 26, 2011","x":65,"y":-14.9},{"p":"d","s":"HH Feb 26, 2011","x":70,"y":-17.2},{"p":"d","s":"HH Feb 26, 2011","x":75,"y":-20.2},{"p":"d","s":"HH Feb 26, 2011","x":78,"y":-22.3},{"p":"d","s":"HH Feb 26, 2011","x":81,"y":-24.6},
      {"p":"d","s":"HH Nov 15, 2010","x":21.5,"y":-5.9},{"p":"d","s":"HH Nov 15, 2010","x":25,"y":-6.0},{"p":"d","s":"HH Nov 15, 2010","x":30,"y":-6.4},{"p":"d","s":"HH Nov 15, 2010","x":35,"y":-7.0},{"p":"d","s":"HH Nov 15, 2010","x":40,"y":-7.7},{"p":"d","s":"HH Nov 15, 2010","x":45,"y":-8.6},{"p":"d","s":"HH Nov 15, 2010","x":50,"y":-9.8},{"p":"d","s":"HH Nov 15, 2010","x":55,"y":-11.3},{"p":"d","s":"HH Nov 15, 2010","x":60,"y":-13.0},{"p":"d","s":"HH Nov 15, 2010","x":65,"y":-15.1},{"p":"d","s":"HH Nov 15, 2010","x":70,"y":-17.6},{"p":"d","s":"HH Nov 15, 2010","x":75,"y":-20.8},{"p":"d","s":"HH Nov 15, 2010","x":78.5,"y":-23.2},{"p":"d","s":"HH Nov 15, 2010","x":81.5,"y":-25.3},
      {"p":"d","s":"HV Feb 26, 2011","x":21,"y":-16.9},{"p":"d","s":"HV Feb 26, 2011","x":25,"y":-17.5},{"p":"d","s":"HV Feb 26, 2011","x":30,"y":-18.3},{"p":"d","s":"HV Feb 26, 2011","x":35,"y":-19.0},{"p":"d","s":"HV Feb 26, 2011","x":40,"y":-19.8},{"p":"d","s":"HV Feb 26, 2011","x":45,"y":-20.7},{"p":"d","s":"HV Feb 26, 2011","x":50,"y":-21.8},{"p":"d","s":"HV Feb 26, 2011","x":55,"y":-23.1},{"p":"d","s":"HV Feb 26, 2011","x":60,"y":-24.5},{"p":"d","s":"HV Feb 26, 2011","x":65,"y":-26.1},{"p":"d","s":"HV Feb 26, 2011","x":70,"y":-28.0},{"p":"d","s":"HV Feb 26, 2011","x":75,"y":-30.7},{"p":"d","s":"HV Feb 26, 2011","x":78,"y":-32.7},{"p":"d","s":"HV Feb 26, 2011","x":81,"y":-34.8},
      {"p":"d","s":"HV Nov 15, 2010","x":21.5,"y":-15.4},{"p":"d","s":"HV Nov 15, 2010","x":25,"y":-15.1},{"p":"d","s":"HV Nov 15, 2010","x":30,"y":-15.0},{"p":"d","s":"HV Nov 15, 2010","x":35,"y":-15.3},{"p":"d","s":"HV Nov 15, 2010","x":40,"y":-16.0},{"p":"d","s":"HV Nov 15, 2010","x":45,"y":-17.1},{"p":"d","s":"HV Nov 15, 2010","x":50,"y":-18.6},{"p":"d","s":"HV Nov 15, 2010","x":55,"y":-20.6},{"p":"d","s":"HV Nov 15, 2010","x":60,"y":-22.6},{"p":"d","s":"HV Nov 15, 2010","x":65,"y":-24.8},{"p":"d","s":"HV Nov 15, 2010","x":70,"y":-27.2},{"p":"d","s":"HV Nov 15, 2010","x":75,"y":-30.2},{"p":"d","s":"HV Nov 15, 2010","x":78.5,"y":-32.4},{"p":"d","s":"HV Nov 15, 2010","x":81.5,"y":-35.0}
    ]
  },
  "concat": [
    {
      "width": 513, "height": 345,
      "title": {"text": "(a) Ku-band VV VH", "orient": "bottom", "anchor": "middle", "dx": -34, "offset": 17, "font": "Liberation Serif", "fontSize": 31, "fontWeight": "normal", "color": "black"},
      "encoding": {
        "x": {"field": "x", "type": "quantitative", "scale": {"domain": [15, 87.6], "nice": false, "zero": false},
          "axis": {"title": "Elevation (°)", "values": [20,25,30,35,40,45,50,55,60,65,70,75,80,85], "labelExpr": "datum.value % 10 === 0 ? datum.label : ''", "tickSize": {"condition": {"test": "datum.value % 10 === 0", "value": 9}, "value": 4.5}, "labelOverlap": false, "titlePadding": 7}},
        "y": {"field": "y", "type": "quantitative", "scale": {"domain": [-40, 10], "nice": false, "zero": false},
          "axis": {"title": "σ⁰ (dB)", "values": [-40,-35,-30,-25,-20,-15,-10,-5,0,5,10], "labelExpr": "datum.value % 10 === 0 ? datum.label : ''", "tickSize": {"condition": {"test": "datum.value % 10 === 0", "value": 10}, "value": 5}, "labelOverlap": false, "labelPadding": 5, "titleX": -53}}
      },
      "layer": [
        {"data": {"name": "pts"}, "transform": [{"filter": "datum.p === 'a'"}],
         "mark": {"type": "errorbar", "color": "#333333", "rule": {"strokeWidth": 1.4}, "ticks": {"size": 7, "thickness": 1.5, "color": "black"}},
         "encoding": {"yError": {"field": "e"}}},
        {"data": {"name": "fit"}, "transform": [{"filter": "datum.p === 'a'"}],
         "mark": {"type": "line", "interpolate": "monotone", "color": "#555555", "strokeWidth": 1.2},
         "encoding": {"detail": {"field": "s", "type": "nominal"}}},
        {"data": {"name": "pts"}, "transform": [{"filter": "datum.p === 'a'"}],
         "mark": {"type": "point", "filled": true, "strokeWidth": 1.2, "size": 85, "opacity": 1},
         "encoding": {
           "shape": {"field": "s", "type": "nominal", "scale": {"domain": ["VV Feb 26, 2011","VV Nov 15, 2010","VH Feb 26, 2011","VH Nov 15, 2010"], "range": ["circle","circle","diamond","diamond"]}, "legend": {"title": null}},
           "fill": {"field": "s", "type": "nominal", "scale": {"domain": ["VV Feb 26, 2011","VV Nov 15, 2010","VH Feb 26, 2011","VH Nov 15, 2010"], "range": ["black","white","black","white"]}, "legend": {"title": null}},
           "stroke": {"field": "s", "type": "nominal", "scale": {"domain": ["VV Feb 26, 2011","VV Nov 15, 2010","VH Feb 26, 2011","VH Nov 15, 2010"], "range": ["black","black","black","black"]}, "legend": {"title": null}}
         }}
      ]
    },
    {
      "width": 513, "height": 345,
      "title": {"text": "(b) Ku-band HH HV", "orient": "bottom", "anchor": "middle", "dx": -34, "offset": 17, "font": "Liberation Serif", "fontSize": 31, "fontWeight": "normal", "color": "black"},
      "encoding": {
        "x": {"field": "x", "type": "quantitative", "scale": {"domain": [15, 87.6], "nice": false, "zero": false},
          "axis": {"title": "Elevation (°)", "values": [20,25,30,35,40,45,50,55,60,65,70,75,80,85], "labelExpr": "datum.value % 10 === 0 ? datum.label : ''", "tickSize": {"condition": {"test": "datum.value % 10 === 0", "value": 9}, "value": 4.5}, "labelOverlap": false, "titlePadding": 7}},
        "y": {"field": "y", "type": "quantitative", "scale": {"domain": [-40, 10], "nice": false, "zero": false},
          "axis": {"title": "σ⁰ (dB)", "values": [-40,-35,-30,-25,-20,-15,-10,-5,0,5,10], "labelExpr": "datum.value % 10 === 0 ? datum.label : ''", "tickSize": {"condition": {"test": "datum.value % 10 === 0", "value": 10}, "value": 5}, "labelOverlap": false, "labelPadding": 5, "titleX": -53}}
      },
      "layer": [
        {"data": {"name": "pts"}, "transform": [{"filter": "datum.p === 'b'"}],
         "mark": {"type": "errorbar", "color": "#333333", "rule": {"strokeWidth": 1.4}, "ticks": {"size": 7, "thickness": 1.5, "color": "black"}},
         "encoding": {"yError": {"field": "e"}}},
        {"data": {"name": "fit"}, "transform": [{"filter": "datum.p === 'b'"}],
         "mark": {"type": "line", "interpolate": "monotone", "color": "#555555", "strokeWidth": 1.2},
         "encoding": {"detail": {"field": "s", "type": "nominal"}}},
        {"data": {"name": "pts"}, "transform": [{"filter": "datum.p === 'b'"}],
         "mark": {"type": "point", "filled": true, "strokeWidth": 1.2, "size": 85, "opacity": 1},
         "encoding": {
           "shape": {"field": "s", "type": "nominal", "scale": {"domain": ["HH Feb 26, 2011","HH Nov 15, 2010","HV Feb 26, 2011","HV Nov 15, 2010"], "range": ["circle","circle","diamond","diamond"]}, "legend": {"title": null}},
           "fill": {"field": "s", "type": "nominal", "scale": {"domain": ["HH Feb 26, 2011","HH Nov 15, 2010","HV Feb 26, 2011","HV Nov 15, 2010"], "range": ["black","white","black","white"]}, "legend": {"title": null}},
           "stroke": {"field": "s", "type": "nominal", "scale": {"domain": ["HH Feb 26, 2011","HH Nov 15, 2010","HV Feb 26, 2011","HV Nov 15, 2010"], "range": ["black","black","black","black"]}, "legend": {"title": null}}
         }}
      ]
    },
    {
      "width": 513, "height": 345,
      "title": {"text": "(c) X-band VV VH", "orient": "bottom", "anchor": "middle", "dx": -34, "offset": 17, "font": "Liberation Serif", "fontSize": 31, "fontWeight": "normal", "color": "black"},
      "encoding": {
        "x": {"field": "x", "type": "quantitative", "scale": {"domain": [15, 87.6], "nice": false, "zero": false},
          "axis": {"title": "Elevation (°)", "values": [20,25,30,35,40,45,50,55,60,65,70,75,80,85], "labelExpr": "datum.value % 10 === 0 ? datum.label : ''", "tickSize": {"condition": {"test": "datum.value % 10 === 0", "value": 9}, "value": 4.5}, "labelOverlap": false, "titlePadding": 7}},
        "y": {"field": "y", "type": "quantitative", "scale": {"domain": [-40, 10], "nice": false, "zero": false},
          "axis": {"title": "σ⁰ (dB)", "values": [-40,-35,-30,-25,-20,-15,-10,-5,0,5,10], "labelExpr": "datum.value % 10 === 0 ? datum.label : ''", "tickSize": {"condition": {"test": "datum.value % 10 === 0", "value": 10}, "value": 5}, "labelOverlap": false, "labelPadding": 5, "titleX": -53}}
      },
      "layer": [
        {"data": {"name": "pts"}, "transform": [{"filter": "datum.p === 'c'"}],
         "mark": {"type": "errorbar", "color": "#333333", "rule": {"strokeWidth": 1.4}, "ticks": {"size": 7, "thickness": 1.5, "color": "black"}},
         "encoding": {"yError": {"field": "e"}}},
        {"data": {"name": "fit"}, "transform": [{"filter": "datum.p === 'c'"}],
         "mark": {"type": "line", "interpolate": "monotone", "color": "#555555", "strokeWidth": 1.2},
         "encoding": {"detail": {"field": "s", "type": "nominal"}}},
        {"data": {"name": "pts"}, "transform": [{"filter": "datum.p === 'c'"}],
         "mark": {"type": "point", "filled": true, "strokeWidth": 1.2, "size": 85, "opacity": 1},
         "encoding": {
           "shape": {"field": "s", "type": "nominal", "scale": {"domain": ["VV Feb 26, 2011","VV Nov 15, 2010","VH Feb 26, 2011","VH Nov 15, 2010"], "range": ["circle","circle","diamond","diamond"]}, "legend": {"title": null}},
           "fill": {"field": "s", "type": "nominal", "scale": {"domain": ["VV Feb 26, 2011","VV Nov 15, 2010","VH Feb 26, 2011","VH Nov 15, 2010"], "range": ["black","white","black","white"]}, "legend": {"title": null}},
           "stroke": {"field": "s", "type": "nominal", "scale": {"domain": ["VV Feb 26, 2011","VV Nov 15, 2010","VH Feb 26, 2011","VH Nov 15, 2010"], "range": ["black","black","black","black"]}, "legend": {"title": null}}
         }}
      ]
    },
    {
      "width": 513, "height": 345,
      "title": {"text": "(d) X-band HH HV", "orient": "bottom", "anchor": "middle", "dx": -34, "offset": 17, "font": "Liberation Serif", "fontSize": 31, "fontWeight": "normal", "color": "black"},
      "encoding": {
        "x": {"field": "x", "type": "quantitative", "scale": {"domain": [15, 87.6], "nice": false, "zero": false},
          "axis": {"title": "Elevation (°)", "values": [20,25,30,35,40,45,50,55,60,65,70,75,80,85], "labelExpr": "datum.value % 10 === 0 ? datum.label : ''", "tickSize": {"condition": {"test": "datum.value % 10 === 0", "value": 9}, "value": 4.5}, "labelOverlap": false, "titlePadding": 7}},
        "y": {"field": "y", "type": "quantitative", "scale": {"domain": [-40, 10], "nice": false, "zero": false},
          "axis": {"title": "σ⁰ (dB)", "values": [-40,-35,-30,-25,-20,-15,-10,-5,0,5,10], "labelExpr": "datum.value % 10 === 0 ? datum.label : ''", "tickSize": {"condition": {"test": "datum.value % 10 === 0", "value": 10}, "value": 5}, "labelOverlap": false, "labelPadding": 5, "titleX": -53}}
      },
      "layer": [
        {"data": {"name": "pts"}, "transform": [{"filter": "datum.p === 'd'"}],
         "mark": {"type": "errorbar", "color": "#333333", "rule": {"strokeWidth": 1.4}, "ticks": {"size": 7, "thickness": 1.5, "color": "black"}},
         "encoding": {"yError": {"field": "e"}}},
        {"data": {"name": "fit"}, "transform": [{"filter": "datum.p === 'd'"}],
         "mark": {"type": "line", "interpolate": "monotone", "color": "#555555", "strokeWidth": 1.2},
         "encoding": {"detail": {"field": "s", "type": "nominal"}}},
        {"data": {"name": "pts"}, "transform": [{"filter": "datum.p === 'd'"}],
         "mark": {"type": "point", "filled": true, "strokeWidth": 1.2, "size": 85, "opacity": 1},
         "encoding": {
           "shape": {"field": "s", "type": "nominal", "scale": {"domain": ["HH Feb 26, 2011","HH Nov 15, 2010","HV Feb 26, 2011","HV Nov 15, 2010"], "range": ["circle","circle","diamond","diamond"]}, "legend": {"title": null}},
           "fill": {"field": "s", "type": "nominal", "scale": {"domain": ["HH Feb 26, 2011","HH Nov 15, 2010","HV Feb 26, 2011","HV Nov 15, 2010"], "range": ["black","white","black","white"]}, "legend": {"title": null}},
           "stroke": {"field": "s", "type": "nominal", "scale": {"domain": ["HH Feb 26, 2011","HH Nov 15, 2010","HV Feb 26, 2011","HV Nov 15, 2010"], "range": ["black","black","black","black"]}, "legend": {"title": null}}
         }}
      ]
    }
  ],
  "config": {
    "font": "Liberation Sans",
    "view": {"stroke": "black", "strokeWidth": 1.2},
    "axis": {"grid": false, "domainColor": "black", "domainWidth": 1.2, "tickColor": "black", "tickWidth": 1.2, "labelColor": "black", "titleColor": "black", "labelFont": "Liberation Sans", "titleFont": "Liberation Sans", "labelFontSize": 18, "titleFontSize": 18, "titleFontWeight": "normal", "labelPadding": 3},
    "legend": {"orient": "none", "legendX": 341, "legendY": 4, "labelFont": "Liberation Sans", "labelFontSize": 18.5, "labelColor": "black", "symbolSize": 55, "symbolStrokeWidth": 1.1, "rowPadding": 3.5, "labelOffset": 6, "padding": 0}
  }
}
